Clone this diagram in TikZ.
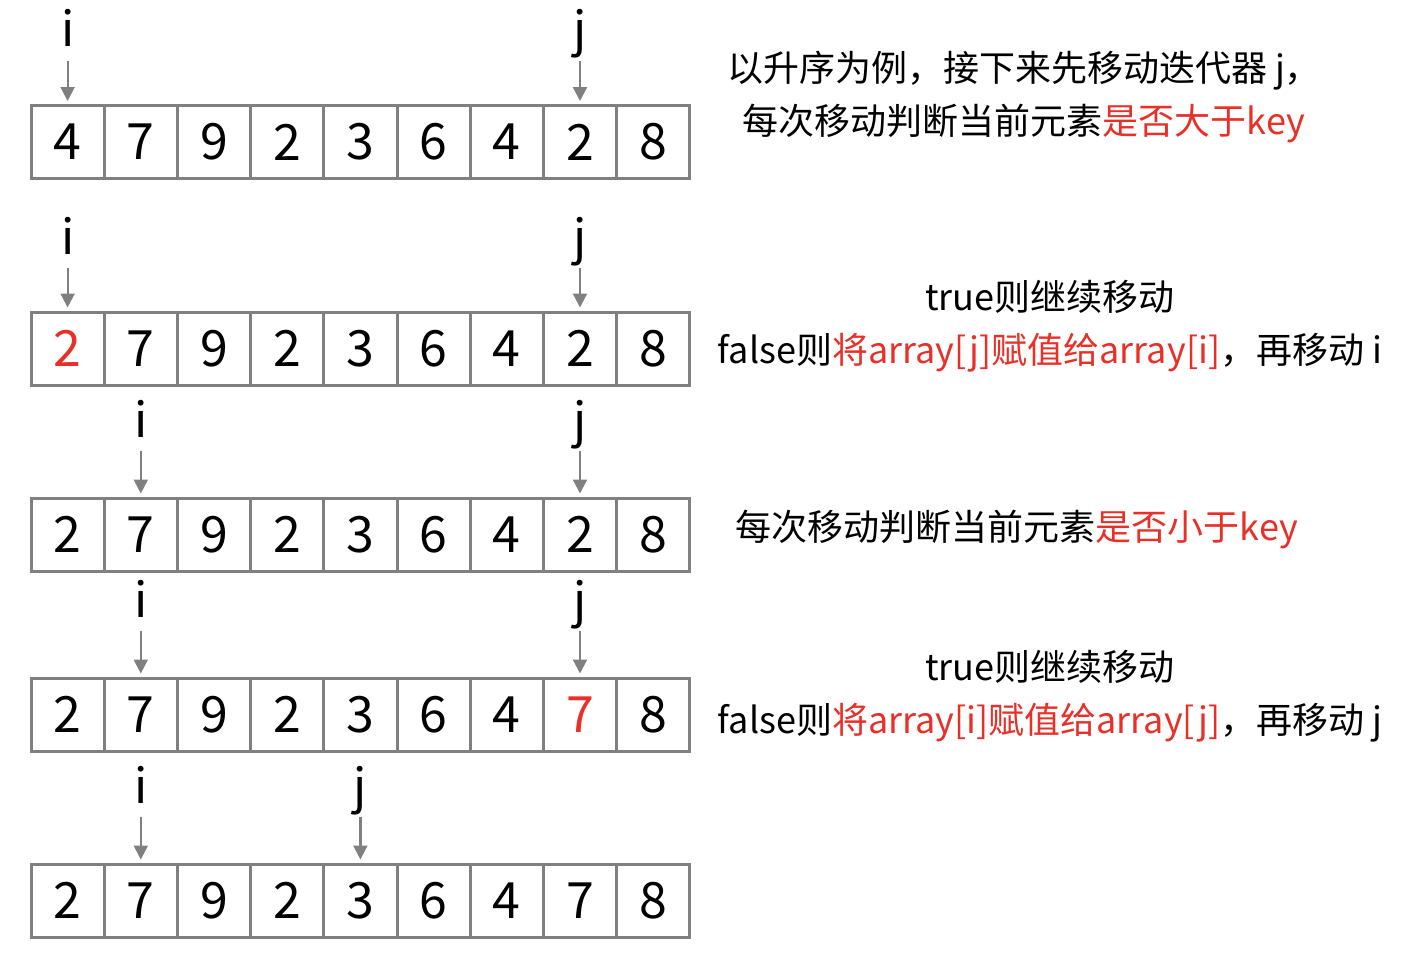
\documentclass[tikz,border=0pt]{standalone}
\usepackage{fontspec}
\setmainfont{Noto Sans CJK SC}
\usepackage{xcolor}
\usetikzlibrary{arrows.meta}

\definecolor{hlred}{RGB}{232,48,40}
\definecolor{boxgray}{RGB}{128,128,128}
\newcommand{\hl}[1]{\textcolor{hlred}{#1}}

\begin{document}
\begin{tikzpicture}[
  x=1pt, y=-1pt,
  cell/.style={
    rectangle, draw=boxgray, line width=3pt, fill=white,
    minimum width=73.2pt, minimum height=73pt, inner sep=0pt,
    font=\fontsize{50}{50}\selectfont
  },
  ptrlbl/.style={
    inner sep=0pt, anchor=base, text depth=14pt,
    font=\fontsize{48}{48}\selectfont
  },
  ptrarrow/.style={
    -{Triangle[length=14pt,width=14pt]}, draw=boxgray, line width=2.2pt,
    shorten >=3pt
  },
  note/.style={
    align=center, inner sep=0pt,
    font=\fontsize{36}{53}\selectfont
  }
]
\useasboundingbox (0,0) rectangle (1420,974);

% Row 1: start
\foreach \v [count=\k] in {4,7,9,2,3,6,4,2,8}
  \node[cell] (a\k) at ({31+73.2*(\k-0.5)},142) {\v};
% Row 2: a[j] -> a[i]
\foreach \v [count=\k] in {\hl{2},7,9,2,3,6,4,2,8}
  \node[cell] (b\k) at ({31+73.2*(\k-0.5)},348.5) {\v};
% Row 3: move i
\foreach \v [count=\k] in {2,7,9,2,3,6,4,2,8}
  \node[cell] (c\k) at ({31+73.2*(\k-0.5)},534.5) {\v};
% Row 4: a[i] -> a[j]
\foreach \v [count=\k] in {2,7,9,2,3,6,4,\hl{7},8}
  \node[cell] (d\k) at ({31+73.2*(\k-0.5)},714.5) {\v};
% Row 5: move j
\foreach \v [count=\k] in {2,7,9,2,3,6,4,7,8}
  \node[cell] (e\k) at ({31+73.2*(\k-0.5)},900.5) {\v};

% Pointers i / j
\foreach \r/\ci/\cj/\ty in {a/1/8/47, b/1/8/254, c/2/8/437, d/2/8/617, e/2/5/803} {
  \node[ptrlbl] (\r i) at (\r\ci.north |- 0,\ty) {i};
  \node[ptrlbl] (\r j) at (\r\cj.north |- 0,\ty) {j};
  \draw[ptrarrow] (\r i.south) -- (\r\ci.north);
  \draw[ptrarrow] (\r j.south) -- (\r\cj.north);
}

% Notes
\node[note] (n1) at (1024,97) {以升序为例，接下来先移动迭代器 j，\\
  每次移动判断当前元素\hl{是否大于key}};
\node[note] (n2) at (1050,326) {true则继续移动\\
  false则\hl{将array[j]赋值给array[i]}，再移动 i};
\node[note] (n3) at (1017,529) {每次移动判断当前元素\hl{是否小于key}};
\node[note] (n4) at (1050,696) {true则继续移动\\
  false则\hl{将array[i]赋值给array[j]}，再移动 j};

\end{tikzpicture}
\end{document}
